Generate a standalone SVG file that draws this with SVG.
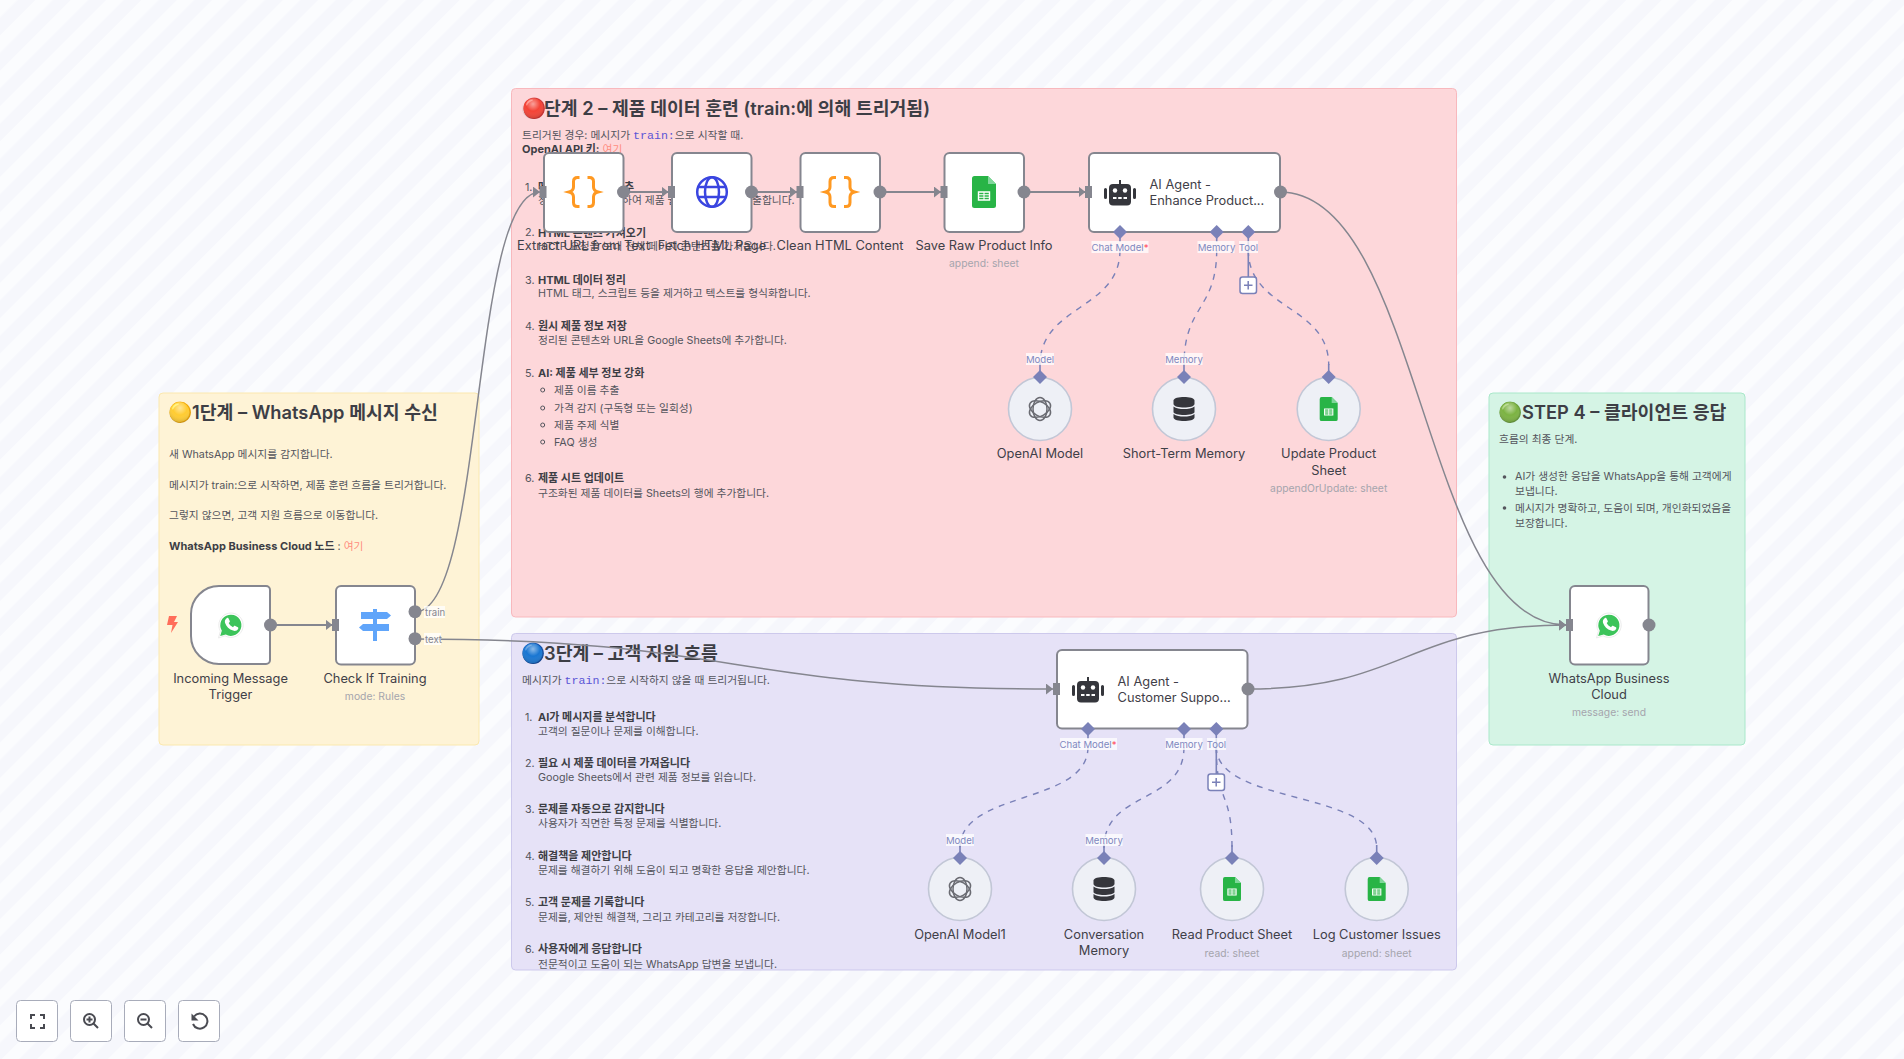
<svg xmlns="http://www.w3.org/2000/svg" width="1904" height="1059" viewBox="0 0 1904 1059">
<style>
text{font-family:"Inter","Noto Sans CJK KR","Noto Sans",sans-serif}
.t{font-size:18.300px;font-weight:600;fill:#3d3e45}
.e{font-size:19.500px}
.b{font-size:10.750px;fill:#54555d;dominant-baseline:central}
.s{font-size:11px;font-weight:700;fill:#3d3e45}
.m{font-family:"Liberation Mono","Noto Sans CJK KR",monospace;font-size:11.600px;fill:#5a55d6}
.r{fill:#ff8d80}
.n{font-size:12.850px;fill:#3f4048;text-anchor:middle;dominant-baseline:central}
.a{font-size:12.850px;fill:#3f4048;dominant-baseline:central}
.u{font-size:10.350px;fill:#a5a5ad;text-anchor:middle;dominant-baseline:central}
.l{font-size:9.600px;fill:#8088c0;text-anchor:middle;dominant-baseline:central}
.o{font-size:9.600px;fill:#85868f;dominant-baseline:central}
.bg{fill:#fff;fill-opacity:.75}
.box{fill:#fff;stroke:#85868f;stroke-width:2}
.c{fill:#eef0f6;stroke:#c2c7d6;stroke-width:1.600}
.dot{fill:#85868f}
.inp{fill:#85868f}
.w{fill:none;stroke:#85868f;stroke-width:2}
.v{fill:none;stroke:#85868f;stroke-width:1.500}
.d{fill:none;stroke:#7a81b8;stroke-width:1.400;stroke-dasharray:6 6}
.sl{fill:none;stroke:#7a81b8;stroke-width:1.600}
.dm{fill:#7a81b8}
.btn{fill:#fff;stroke:#a8acba;stroke-width:1}
.ic{fill:none;stroke:#4a4b52;stroke-width:2}
.gl{fill:url(#gloss)}
</style>
<defs>
<radialGradient id="gloss" cx=".5" cy=".32" r=".72">
<stop offset="0" stop-color="#fff" stop-opacity=".5"/><stop offset=".45" stop-color="#fff" stop-opacity="0"/><stop offset="1" stop-color="#000" stop-opacity=".22"/>
</radialGradient>
<pattern id="stripes" width="25" height="25" patternUnits="userSpaceOnUse" patternTransform="rotate(-45)">
<rect width="25" height="25" fill="#f6f7fc"/><rect width="25" height="12.500" fill="#fbfcfe"/>
</pattern>
<marker id="arr" viewBox="0 0 7 11" refX="7" refY="5.500" markerWidth="7" markerHeight="11" markerUnits="userSpaceOnUse" orient="auto"><path d="M0 0L7 5.500L0 11Z" fill="#85868f"/></marker>
<symbol id="wa" viewBox="-14 -14 28 28" overflow="visible">
<path d="M-12.500 13L-10.600 6.200A12.200 12.200 0 1 1-6 10.800Z" fill="#fff" stroke="#e6e6e6" stroke-width=".8"/>
<path d="M-10.800 11L-9.200 5.800A10.600 10.600 0 1 1-5.200 9.600Z" fill="#3cc45a"/>
<path d="M-4.600-6.600c.6-.7 1.600-.7 2-.1l1.400 2.600c.2.500 0 .9-.3 1.300l-.8.9c.9 1.900 2.300 3.200 4.300 4.100l1-1.100c.4-.4.9-.4 1.300-.2l2.600 1.400c.5.300.5 1 .2 1.600-.9 1.800-3 2.400-5 1.700-4-1.300-6.800-4-8-7.700-.5-1.600-.2-3.400 1.300-4.500Z" fill="#fff"/>
</symbol>
<symbol id="sheet" viewBox="-12 -16 24 32" overflow="visible">
<path d="M-12-13.500a2.500 2.500 0 0 1 2.500-2.500H4L12-8V13.500a2.500 2.500 0 0 1-2.500 2.500h-19a2.500 2.500 0 0 1-2.500-2.500Z" fill="#28b446"/>
<path d="M4-16L12-8H4Z" fill="#7fd79a"/>
<path d="M-5.500 0h11v8h-11Z" fill="none" stroke="#fff" stroke-width="1.400"/>
<path d="M0 0v8M-5.500 2.700h11M-5.500 5.300h11" stroke="#fff" stroke-width="1.100"/>
</symbol>
<symbol id="robot" viewBox="-16 -13 32 26" overflow="visible">
<path d="M-16-3.500a1.500 1.500 0 0 1 3 0v8a1.500 1.500 0 0 1-3 0ZM13-3.500a1.500 1.500 0 0 1 3 0v8a1.500 1.500 0 0 1-3 0Z" fill="#35363c"/>
<rect x="-1" y="-13" width="2" height="5" fill="#35363c"/>
<rect x="-11" y="-9" width="22" height="21.500" rx="4" fill="#35363c"/>
<circle cx="-5" cy="-2.500" r="2.200" fill="#fff"/><circle cx="5" cy="-2.500" r="2.200" fill="#fff"/>
<path d="M-7 5h3.500M-1.800 5h3.500M3.500 5H7" stroke="#fff" stroke-width="2"/>
</symbol>
<symbol id="db" viewBox="-11 -12 22 24" overflow="visible">
<path d="M-10.500-8.500C-10.500-11 -5-12 0-12S10.500-11 10.500-8.500V-5C10.500-2.500 5-1.500 0-1.500S-10.500-2.500-10.500-5Z" fill="#35363c"/>
<path d="M-10.500-2.500C-8-.5-4 0 0 0S8-.5 10.500-2.500V3C10.500 5 5 6 0 6S-10.500 5-10.500 3Z" fill="#35363c"/>
<path d="M-10.500 5C-8 7-4 7.500 0 7.500S8 7 10.500 5V8.500C10.500 11 5 12 0 12S-10.500 11-10.500 8.500Z" fill="#35363c"/>
</symbol>
<symbol id="oai" viewBox="-12 -12 24 24" overflow="visible">
<g fill="none" stroke="#6a6b72" stroke-width="1.500">
<ellipse rx="11.500" ry="7" transform="rotate(30)"/><ellipse rx="11.500" ry="7" transform="rotate(90)"/><ellipse rx="11.500" ry="7" transform="rotate(150)"/>
</g>
</symbol>
<symbol id="brace" viewBox="-15 -16 30 32" overflow="visible">
<path d="M-4-14.500h-2c-2.500 0-4 1.500-4 4v5.500c0 2.500-1.500 4.200-4.500 5 3 .8 4.500 2.500 4.500 5v5.500c0 2.500 1.500 4 4 4h2M4-14.500h2c2.500 0 4 1.500 4 4v5.500c0 2.500 1.500 4.200 4.500 5-3 .8-4.500 2.500-4.500 5v5.500c0 2.500-1.500 4-4 4h-2" fill="none" stroke="#ff9922" stroke-width="3"/>
</symbol>
</defs>
<rect id="canvas" width="1904" height="1059" fill="url(#stripes)"/>

<g id="note-step2">
<rect x="511.500" y="88.500" width="945" height="528.500" rx="4" fill="#fdd7da" stroke="#f8b8bd"/>
<text class="t" x="521.500" y="115"><tspan class="e">🔴</tspan><tspan dx="-1.500">단계 2 – 제품 데이터 훈련 (train:에 의해 트리거됨)</tspan></text>
<circle class="gl" cx="533" cy="108" r="11"/>
<text class="b" x="522" y="135">트리거된 경우: 메시지가 <tspan class="m">train:</tspan>으로 시작할 때.</text>
<text class="b" x="522" y="149"><tspan class="s">OpenAI API 키:</tspan> <tspan class="r">여기</tspan></text>
<text class="b" x="525" y="187">1.</text><text class="b s" x="538" y="187">메</text><text class="b s" x="624" y="187">추</text>
<text class="b" x="538" y="200.500">정</text><text class="b" x="622" y="200.500">하여 제품 웹</text><text class="b" x="752" y="200.500">출합니다.</text>
<text class="b" x="525" y="232.700">2.</text><text class="b s" x="538" y="232.700">HTML 콘텐츠 가져오기</text>
<text class="b" x="538" y="246.500">HTTP 요청을 보내 전체 페이지 콘텐츠를 가져옵니다.</text>
<text class="b" x="525" y="280">3.</text><text class="b s" x="538" y="280">HTML 데이터 정리</text>
<text class="b" x="538" y="293.700">HTML 태그, 스크립트 등을 제거하고 텍스트를 형식화합니다.</text>
<text class="b" x="525" y="326">4.</text><text class="b s" x="538" y="326">원시 제품 정보 저장</text>
<text class="b" x="538" y="340.700">정리된 콘텐츠와 URL을 Google Sheets에 추가합니다.</text>
<text class="b" x="525" y="373">5.</text><text class="b s" x="538" y="373">AI: 제품 세부 정보 강화</text>
<g fill="none" stroke="#54555d"><circle cx="542.700" cy="390" r="2"/><circle cx="542.700" cy="408" r="2"/><circle cx="542.700" cy="425" r="2"/><circle cx="542.700" cy="442" r="2"/></g>
<text class="b" x="554" y="390">제품 이름 추출</text>
<text class="b" x="554" y="408">가격 감지 (구독형 또는 일회성)</text>
<text class="b" x="554" y="425">제품 주제 식별</text>
<text class="b" x="554" y="442">FAQ 생성</text>
<text class="b" x="525" y="478">6.</text><text class="b s" x="538" y="478">제품 시트 업데이트</text>
<text class="b" x="538" y="493.300">구조화된 제품 데이터를 Sheets의 행에 추가합니다.</text>
</g>

<g id="note-step3">
<rect x="511.500" y="633.500" width="945" height="336.500" rx="4" fill="#e6e2f7" stroke="#cdc9ec"/>
<text class="t" x="521" y="660"><tspan class="e">🔵</tspan><tspan dx="-1">3단계 – 고객 지원 흐름</tspan></text>
<circle class="gl" cx="533" cy="653" r="11"/>
<text class="b" x="522" y="680">메시지가 <tspan class="m">train:</tspan>으로 시작하지 않을 때 트리거됩니다.</text>
<text class="b" x="525" y="717">1.</text><text class="b s" x="538" y="717">AI가 메시지를 분석합니다</text>
<text class="b" x="538" y="731">고객의 질문이나 문제를 이해합니다.</text>
<text class="b" x="525" y="763">2.</text><text class="b s" x="538" y="763">필요 시 제품 데이터를 가져옵니다</text>
<text class="b" x="538" y="777">Google Sheets에서 관련 제품 정보를 읽습니다.</text>
<text class="b" x="525" y="809">3.</text><text class="b s" x="538" y="809">문제를 자동으로 감지합니다</text>
<text class="b" x="538" y="823.700">사용자가 직면한 특정 문제를 식별합니다.</text>
<text class="b" x="525" y="856">4.</text><text class="b s" x="538" y="856">해결책을 제안합니다</text>
<text class="b" x="538" y="870.700">문제를 해결하기 위해 도움이 되고 명확한 응답을 제안합니다.</text>
<text class="b" x="525" y="902">5.</text><text class="b s" x="538" y="902">고객 문제를 기록합니다</text>
<text class="b" x="538" y="917.700">문제를, 제안된 해결책, 그리고 카테고리를 저장합니다.</text>
<text class="b" x="525" y="949">6.</text><text class="b s" x="538" y="949">사용자에게 응답합니다</text>
<text class="b" x="538" y="964">전문적이고 도움이 되는 WhatsApp 답변을 보냅니다.</text>
</g>

<g id="note-step1">
<rect x="159" y="393" width="320" height="352" rx="4" fill="#fef3d6" stroke="#fbe8ae"/>
<text class="t" x="168" y="419"><tspan class="e">🟡</tspan>1단계 – WhatsApp 메시지 수신</text>
<circle class="gl" cx="180" cy="412" r="11"/>
<text class="b" x="169" y="454">새 WhatsApp 메시지를 감지합니다.</text>
<text class="b" x="169" y="485">메시지가 train:으로 시작하면, 제품 훈련 흐름을 트리거합니다.</text>
<text class="b" x="169" y="515">그렇지 않으면, 고객 지원 흐름으로 이동합니다.</text>
<text class="b" x="169" y="546"><tspan class="s">WhatsApp Business Cloud 노드</tspan> : <tspan class="r">여기</tspan></text>
</g>

<g id="note-step4">
<rect x="1489" y="393" width="256" height="352" rx="4" fill="#d5f4e5" stroke="#a9e8ca"/>
<text class="t" x="1498" y="419"><tspan class="e">🟢</tspan>STEP 4 – 클라이언트 응답</text>
<circle class="gl" cx="1510" cy="412" r="11"/>
<text class="b" x="1499" y="439">흐름의 최종 단계.</text>
<circle cx="1504.500" cy="477" r="1.800" fill="#54555d"/><circle cx="1504.500" cy="508" r="1.800" fill="#54555d"/>
<text class="b" x="1515" y="476.700">AI가 생성한 응답을 WhatsApp을 통해 고객에게</text>
<text class="b" x="1515" y="491">보냅니다.</text>
<text class="b" x="1515" y="508">메시지가 명확하고, 도움이 되며, 개인화되었음을</text>
<text class="b" x="1515" y="523">보장합니다.</text>
</g>

<g id="connectors">
<path class="w" marker-end="url(#arr)" d="M270 625H332.500"/>
<path class="v" marker-end="url(#arr)" d="M415 612C485 612 470 192 540 192"/>
<path class="v" marker-end="url(#arr)" d="M415 639C733 639 733 689 1053 689"/>
<path class="w" marker-end="url(#arr)" d="M624 192H668.500"/>
<path class="w" marker-end="url(#arr)" d="M752 192H797"/>
<path class="w" marker-end="url(#arr)" d="M880 192H941"/>
<path class="w" marker-end="url(#arr)" d="M1024 192H1085.500"/>
<path class="v" marker-end="url(#arr)" d="M1280 192C1422 192 1422 625 1566 625"/>
<path class="v" marker-end="url(#arr)" d="M1248 689C1406 689 1406 625 1566 625"/>
<path class="d" d="M1120 250C1120 310 1040 305 1040 365"/>
<path class="d" d="M1216.700 250C1216.700 310 1184 305 1184 365"/>
<path class="d" d="M1248.300 250C1248.300 310 1328.700 305 1328.700 365"/>
<path class="d" d="M1088 747C1088 805 960 790 960 848"/>
<path class="d" d="M1184 747C1184 805 1104 790 1104 848"/>
<path class="d" d="M1216.300 747C1216.300 805 1232 790 1232 848"/>
<path class="d" d="M1216.300 747C1216.300 805 1376.700 790 1376.700 848"/>
<path class="sl" d="M1120 232V242M1216.700 232V242M1248.300 232V277M1040 377V364M1184 377V364M1328.700 377V364"/>
<path class="sl" d="M1088 729V739M1184 729V739M1216.300 729V774M960 858V845M1104 858V845M1232 858V845M1376.700 858V845"/>
</g>

<g id="port-labels">
<rect class="bg" x="1091.500" y="241" width="57" height="12"/><text class="l" x="1120" y="247">Chat Model<tspan fill="#ff4d5e">*</tspan></text>
<rect class="bg" x="1197.500" y="241" width="37" height="12"/><text class="l" x="1216.500" y="247">Memory</text>
<rect class="bg" x="1239" y="241" width="19" height="12"/><text class="l" x="1248.500" y="247">Tool</text>
<rect class="bg" x="1026" y="353" width="28" height="12"/><text class="l" x="1040" y="359">Model</text>
<rect class="bg" x="1165.500" y="353" width="37" height="12"/><text class="l" x="1184" y="359">Memory</text>
<rect class="bg" x="1060" y="738" width="57" height="12"/><text class="l" x="1088" y="744">Chat Model<tspan fill="#ff4d5e">*</tspan></text>
<rect class="bg" x="1165.500" y="738" width="37" height="12"/><text class="l" x="1184" y="744">Memory</text>
<rect class="bg" x="1207" y="738" width="19" height="12"/><text class="l" x="1216.500" y="744">Tool</text>
<rect class="bg" x="946" y="834" width="28" height="12"/><text class="l" x="960" y="840">Model</text>
<rect class="bg" x="1085.500" y="834" width="37" height="12"/><text class="l" x="1104" y="840">Memory</text>
<rect class="bg" x="424" y="606" width="21" height="12"/><text class="o" x="425" y="612">train</text>
<rect class="bg" x="424" y="633" width="17" height="12"/><text class="o" x="425" y="639">text</text>
</g>

<g id="node-trigger">
<path class="box" d="M219 586H266a4 4 0 0 1 4 4V660a4 4 0 0 1-4 4H219A28 28 0 0 1 191 636V614A28 28 0 0 1 219 586Z"/>
<use href="#wa" x="217" y="611" width="28" height="28"/>
<path d="M169 616H177L174 622H178L171 633L172.500 625H167Z" fill="#ff6d5a"/>
<circle class="dot" cx="270.500" cy="625" r="6.500"/>
<text class="n" x="230.500" y="678.500">Incoming Message</text><text class="n" x="230.500" y="694.500">Trigger</text>
</g>

<g id="node-check">
<rect class="box" x="336" y="586" width="79" height="78.500" rx="5"/>
<rect class="inp" x="332" y="619" width="7" height="12"/>
<g fill="#60a5fa"><rect x="373" y="609" width="4" height="32"/><path d="M361 612H387L391 615.500L387 619H361Z"/><path d="M363 624H389V631H363L359 627.500Z"/></g>
<circle class="dot" cx="415" cy="611.700" r="6.500"/><circle class="dot" cx="415" cy="638.700" r="6.500"/>
<text class="n" x="375" y="678.500">Check If Training</text>
<text class="u" x="375" y="696">mode: Rules</text>
</g>

<g id="node-extract">
<rect class="box" x="544" y="153" width="79.500" height="79" rx="5"/>
<rect class="inp" x="539.500" y="186" width="7" height="12"/>
<use href="#brace" x="568.500" y="176" width="30" height="32"/>
<circle class="dot" cx="623.500" cy="192" r="6.500"/>
<text class="n" x="583.500" y="245.700">Extract URL from Text</text>
</g>
<g id="node-fetch">
<rect class="box" x="672" y="153" width="79.500" height="79" rx="5"/>
<rect class="inp" x="668" y="186" width="7" height="12"/>
<g fill="none" stroke="#3a45e0" stroke-width="2.500"><circle cx="712" cy="192" r="14.800"/><ellipse cx="712" cy="192" rx="7" ry="14.800"/><path d="M698 187H726M698 197H726"/></g>
<circle class="dot" cx="751.500" cy="192" r="6.500"/>
<text class="n" x="712" y="245.700">Fetch HTML Page</text>
</g>
<g id="node-clean">
<rect class="box" x="800.500" y="153" width="79.500" height="79" rx="5"/>
<rect class="inp" x="796.500" y="186" width="7" height="12"/>
<use href="#brace" x="825" y="176" width="30" height="32"/>
<circle class="dot" cx="880" cy="192" r="6.500"/>
<text class="n" x="840" y="245.700">Clean HTML Content</text>
</g>
<g id="node-save">
<rect class="box" x="944.500" y="153" width="79.500" height="79" rx="5"/>
<rect class="inp" x="940.500" y="186" width="7" height="12"/>
<use href="#sheet" x="972" y="176" width="24" height="32"/>
<circle class="dot" cx="1024" cy="192" r="6.500"/>
<text class="n" x="984" y="245.700">Save Raw Product Info</text>
<text class="u" x="984" y="263">append: sheet</text>
</g>
<g id="node-agent1">
<rect class="box" x="1089" y="153" width="191" height="79" rx="5"/>
<rect class="inp" x="1085" y="186" width="7" height="12"/>
<use href="#robot" x="1104" y="180" width="32" height="26"/>
<text class="a" x="1149.500" y="184.500">AI Agent -</text><text class="a" x="1149.500" y="200.500">Enhance Product...</text>
<circle class="dot" cx="1280.500" cy="192" r="6.500"/>
<g class="dm"><path d="M1120 225L1127 232L1120 239L1113 232Z"/><path d="M1216.700 225L1223.700 232L1216.700 239L1209.700 232Z"/><path d="M1248.300 225L1255.300 232L1248.300 239L1241.300 232Z"/></g>
<rect x="1240" y="277" width="16.500" height="16.500" rx="2.500" fill="#fff" stroke="#7a81b8" stroke-width="1.500"/>
<path d="M1244 285.200H1252.500M1248.200 281V289.500" stroke="#7a81b8" stroke-width="1.500"/>
</g>
<g id="node-openai">
<circle class="c" cx="1040" cy="409" r="31.500"/><use href="#oai" x="1028" y="397" width="24" height="24"/>
<path class="dm" d="M1040 370L1047 377L1040 384L1033 377Z"/>
<text class="n" x="1040" y="453.500">OpenAI Model</text>
</g>
<g id="node-memory">
<circle class="c" cx="1184" cy="409" r="31.500"/><use href="#db" x="1173" y="397" width="22" height="24"/>
<path class="dm" d="M1184 370L1191 377L1184 384L1177 377Z"/>
<text class="n" x="1184" y="453.500">Short-Term Memory</text>
</g>
<g id="node-update">
<circle class="c" cx="1328.700" cy="409" r="31.500"/><use href="#sheet" x="1319.700" y="397" width="18" height="24"/>
<path class="dm" d="M1328.700 370L1335.700 377L1328.700 384L1321.700 377Z"/>
<text class="n" x="1328.700" y="453.500">Update Product</text><text class="n" x="1328.700" y="470.500">Sheet</text>
<text class="u" x="1328.700" y="487.500">appendOrUpdate: sheet</text>
</g>
<g id="node-agent2">
<rect class="box" x="1057" y="650" width="190.500" height="78.500" rx="5"/>
<rect class="inp" x="1053" y="683" width="7" height="12"/>
<use href="#robot" x="1072" y="677" width="32" height="26"/>
<text class="a" x="1117.500" y="681.500">AI Agent -</text><text class="a" x="1117.500" y="697.500">Customer Suppo...</text>
<circle class="dot" cx="1248" cy="689" r="6.500"/>
<g class="dm"><path d="M1088 722L1095 729L1088 736L1081 729Z"/><path d="M1184 722L1191 729L1184 736L1177 729Z"/><path d="M1216.300 722L1223.300 729L1216.300 736L1209.300 729Z"/></g>
<rect x="1208" y="774" width="16.500" height="16.500" rx="2.500" fill="#fff" stroke="#7a81b8" stroke-width="1.500"/>
<path d="M1212 782.200H1220.500M1216.200 778V786.500" stroke="#7a81b8" stroke-width="1.500"/>
</g>
<g id="node-openai1">
<circle class="c" cx="960" cy="889" r="31.500"/><use href="#oai" x="948" y="877" width="24" height="24"/>
<path class="dm" d="M960 851L967 858L960 865L953 858Z"/>
<text class="n" x="960" y="934.500">OpenAI Model1</text>
</g>
<g id="node-conversation">
<circle class="c" cx="1104" cy="889" r="31.500"/><use href="#db" x="1093" y="877" width="22" height="24"/>
<path class="dm" d="M1104 851L1111 858L1104 865L1097 858Z"/>
<text class="n" x="1104" y="934.500">Conversation</text><text class="n" x="1104" y="950.500">Memory</text>
</g>
<g id="node-read">
<circle class="c" cx="1232" cy="889" r="31.500"/><use href="#sheet" x="1223" y="877" width="18" height="24"/>
<path class="dm" d="M1232 851L1239 858L1232 865L1225 858Z"/>
<text class="n" x="1232" y="934.500">Read Product Sheet</text>
<text class="u" x="1232" y="952.500">read: sheet</text>
</g>
<g id="node-log">
<circle class="c" cx="1376.700" cy="889" r="31.500"/><use href="#sheet" x="1367.700" y="877" width="18" height="24"/>
<path class="dm" d="M1376.700 851L1383.700 858L1376.700 865L1369.700 858Z"/>
<text class="n" x="1376.700" y="934.500">Log Customer Issues</text>
<text class="u" x="1376.700" y="952.500">append: sheet</text>
</g>
<g id="node-whatsapp">
<rect class="box" x="1570" y="586" width="78.500" height="78.500" rx="5"/>
<rect class="inp" x="1566" y="619" width="7" height="12"/>
<use href="#wa" x="1595" y="611" width="28" height="28"/>
<circle class="dot" cx="1649" cy="625" r="6.500"/>
<text class="n" x="1609" y="678.500">WhatsApp Business</text><text class="n" x="1609" y="694.500">Cloud</text>
<text class="u" x="1609" y="712">message: send</text>
</g>

<g id="controls">
<rect class="btn" x="16.500" y="1000.500" width="41" height="41" rx="4"/>
<rect class="btn" x="70.500" y="1000.500" width="41" height="41" rx="4"/>
<rect class="btn" x="124.500" y="1000.500" width="41" height="41" rx="4"/>
<rect class="btn" x="178.500" y="1000.500" width="41" height="41" rx="4"/>
<path class="ic" d="M31 1019V1015H35M40 1015H44V1019M44 1024V1028H40M35 1028H31V1024"/>
<circle class="ic" cx="89.500" cy="1019.500" r="5.500"/><path class="ic" d="M93.500 1023.500L98 1028M86.500 1019.500H92.500M89.500 1016.500V1022.500"/>
<circle class="ic" cx="143.500" cy="1019.500" r="5.500"/><path class="ic" d="M147.500 1023.500L152 1028M140.500 1019.500H146.500"/>
<path class="ic" d="M194 1016.500A7.500 7.500 0 1 1 193 1024"/><path d="M191.500 1013.500V1020.500H198.500Z" fill="#4a4b52"/>
</g>
</svg>
